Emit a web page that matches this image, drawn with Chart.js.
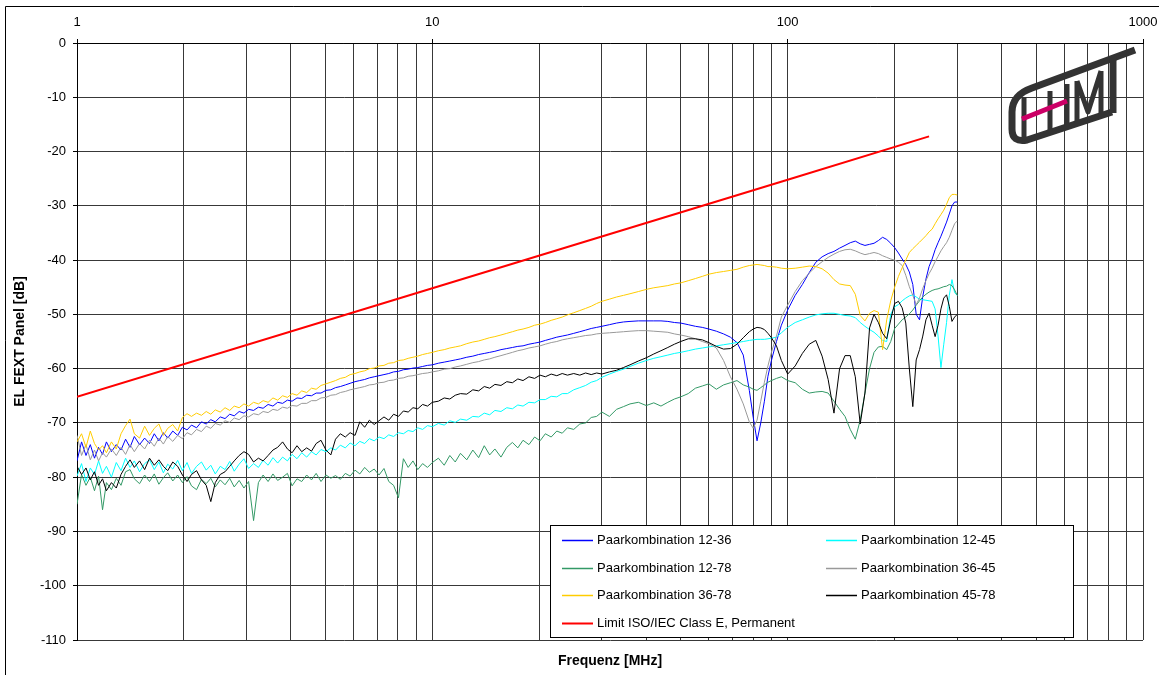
<!DOCTYPE html>
<html>
<head>
<meta charset="utf-8">
<title>EL FEXT Panel</title>
<script src="https://cdn.jsdelivr.net/npm/chart.js@4.4.1/dist/chart.umd.min.js"></script>
<style>
  html, body { margin: 0; padding: 0; background: #fff; }
  #wrap { width: 1159px; height: 675px; }
</style>
</head>
<body>
<div id="wrap"><canvas id="chart" width="1159" height="675"></canvas></div>
<script>
// Measurement frequencies in MHz (rows of 10)
const freqMHz = [
  1.00, 1.03, 1.06, 1.09, 1.12, 1.15, 1.18, 1.21, 1.25, 1.29,
  1.33, 1.37, 1.41, 1.45, 1.50, 1.55, 1.60, 1.65, 1.70, 1.75,
  1.80, 1.86, 1.92, 1.98, 2.04, 2.10, 2.17, 2.24, 2.31, 2.38,
  2.45, 2.53, 2.61, 2.69, 2.77, 2.86, 2.95, 3.04, 3.14, 3.24,
  3.34, 3.45, 3.56, 3.67, 3.79, 3.91, 4.03, 4.16, 4.29, 4.43,
  4.57, 4.71, 4.86, 5.02, 5.18, 5.34, 5.51, 5.69, 5.87, 6.06,
  6.25, 6.45, 6.65, 6.86, 7.08, 7.31, 7.54, 7.78, 8.03, 8.29,
  8.55, 8.82, 9.10, 9.39, 9.69, 10.0, 10.4, 10.8, 11.2, 11.6,
  12.0, 12.5, 13.0, 13.5, 14.0, 14.5, 15.0, 15.6, 16.2, 16.8,
  17.4, 18.0, 18.7, 19.4, 20.1, 20.8, 21.6, 22.4, 23.2, 24.0,
  25, 26, 27, 28, 29, 30, 31.5, 33, 34.5, 36,
  38, 40, 42, 44, 46, 48, 50, 52.5, 55, 57.5,
  60, 63, 66, 69, 72, 75, 78, 80, 82, 84,
  86, 88, 90, 93, 96, 100, 105, 110, 115, 120,
  125, 130, 135, 140, 145, 150, 155, 160, 165, 170,
  175, 180, 185, 190, 195, 200, 205, 210, 215, 220,
  225, 230, 235, 240, 245, 250, 255, 260, 265, 270,
  275, 280, 285, 290, 295, 300
];

// EL FEXT in dB for each pair combination, one value per frequency
const pair12_36 = [
  -77.0, -73.5, -76.0, -74.0, -76.5, -74.5, -75.8, -73.5, -75.3, -74.0,
  -75.0, -73.0, -74.5, -72.5, -74.0, -72.8, -73.8, -72.0, -73.3, -71.8,
  -72.8, -71.5, -72.3, -70.8, -71.3, -70.4, -70.9, -69.8, -70.2, -69.4,
  -69.8, -68.9, -69.2, -68.4, -68.7, -67.9, -68.2, -67.5, -67.7, -67.1,
  -67.3, -66.6, -66.9, -66.2, -66.4, -65.8, -66.0, -65.4, -65.5, -64.9,
  -65.0, -64.5, -64.5, -64.0, -63.9, -63.5, -63.3, -63.0, -62.7, -62.4,
  -62.2, -62.0, -61.7, -61.5, -61.3, -61.1, -60.9, -60.6, -60.5, -60.2,
  -60.1, -59.9, -59.8, -59.6, -59.4, -59.3, -59.0, -58.8, -58.6, -58.4,
  -58.2, -57.9, -57.7, -57.4, -57.2, -57.0, -56.8, -56.5, -56.3, -56.1,
  -55.9, -55.8, -55.5, -55.3, -55.1, -54.8, -54.5, -54.2, -54.0, -53.8,
  -53.5, -53.2, -52.9, -52.6, -52.4, -52.2, -51.9, -51.6, -51.4, -51.3,
  -51.2, -51.2, -51.2, -51.2, -51.3, -51.5, -51.6, -51.9, -52.2, -52.4,
  -52.7, -53.1, -53.6, -54.2, -55.2, -57.5, -64.0, -69.0, -73.3, -70.0,
  -66.0, -61.4, -58.5, -55.0, -52.0, -49.2, -46.5, -44.5, -42.3, -40.4,
  -39.4, -38.8, -38.4, -37.8, -37.3, -36.8, -36.5, -37.0, -37.3, -37.1,
  -36.9, -36.4, -35.8, -36.2, -36.9, -37.7, -38.7, -39.8, -40.8, -42.2,
  -44.5, -50.0, -51.0, -46.7, -43.5, -41.2, -39.8, -38.1, -36.8, -35.6,
  -34.3, -33.0, -31.5, -30.0, -29.3, -29.3
];
const pair12_45 = [
  -79.8, -77.5, -80.8, -78.3, -79.5, -77.0, -79.3, -78.0, -80.0, -77.3,
  -78.8, -76.5, -78.2, -77.0, -79.0, -77.5, -76.8, -78.6, -77.2, -79.2,
  -77.6, -78.5, -76.9, -78.8, -77.3, -79.3, -78.0, -77.2, -78.7, -77.8,
  -79.4, -78.0, -78.6, -77.1, -78.9, -77.6, -76.6, -78.4, -77.5, -78.2,
  -76.9, -77.8, -76.4, -77.4, -76.3, -77.0, -75.8, -76.6, -75.5, -76.3,
  -75.3, -75.9, -74.9, -75.3, -74.6, -75.0, -74.1, -74.6, -73.7, -74.2,
  -73.4, -73.8, -72.9, -73.3, -72.6, -72.9, -72.2, -72.5, -71.8, -72.0,
  -71.4, -71.6, -70.9, -71.2, -70.5, -70.7, -70.1, -70.4, -69.6, -69.9,
  -69.3, -69.5, -68.8, -68.9, -68.2, -68.5, -67.7, -67.9, -67.2, -67.4,
  -66.7, -66.9, -66.2, -66.3, -65.7, -65.7, -65.1, -65.2, -64.6, -64.6,
  -63.9, -63.5, -63.1, -62.5, -62.2, -61.6, -61.0, -60.5, -60.1, -59.6,
  -59.0, -58.5, -58.1, -57.8, -57.5, -57.2, -57.0, -56.7, -56.4, -56.2,
  -56.0, -55.8, -55.6, -55.4, -55.2, -55.0, -54.8, -54.7, -54.6, -54.6,
  -54.6, -54.5, -54.4, -54.2, -53.4, -52.4, -51.5, -51.0, -50.5, -50.1,
  -49.9, -49.8, -49.8, -50.0, -50.2, -50.3, -50.6, -51.5, -52.2, -52.8,
  -53.3, -54.0, -54.8, -55.0, -50.0, -48.6, -48.2, -47.5, -47.0, -46.6,
  -46.4, -46.8, -47.2, -47.3, -47.4, -47.5, -47.6, -49.0, -54.0, -59.8,
  -55.5, -51.5, -46.5, -43.6, -46.0, -46.5
];
const pair12_78 = [
  -85.0, -79.5, -81.5, -80.0, -82.5, -79.8, -86.0, -81.0, -82.3, -80.2,
  -81.5, -79.0, -78.6, -80.3, -81.2, -79.6, -80.8, -79.4, -81.3, -80.1,
  -79.2, -80.7, -79.6, -81.0, -79.9, -81.6, -82.3, -80.4, -81.2, -80.2,
  -81.8, -80.5, -81.4, -80.2, -81.8, -80.6, -82.0, -80.8, -88.0, -81.0,
  -79.6, -80.8, -79.4, -80.6, -80.0, -79.3, -81.6, -80.3, -80.8, -79.6,
  -80.5, -79.3, -80.8, -79.6, -80.2, -79.7, -80.4, -79.3, -79.8, -78.7,
  -79.4, -78.2, -79.1, -78.5, -79.6, -78.4, -80.8, -81.5, -83.8, -76.6,
  -78.2, -77.0, -78.6, -77.5, -78.2, -77.3, -76.5, -77.8, -76.0, -77.2,
  -75.6, -76.8, -75.0, -76.4, -74.2, -75.9, -74.8, -76.3, -74.5, -73.6,
  -74.6, -73.2, -74.0, -72.6, -73.3, -72.0, -72.6, -71.5, -71.9, -70.9,
  -71.2, -70.2, -70.0, -69.0, -68.8, -68.0, -68.8, -67.5, -67.0, -66.5,
  -66.2, -66.8, -66.3, -66.9, -66.2, -65.6, -65.2, -64.6, -63.6, -63.2,
  -62.8, -63.8, -63.0, -62.6, -62.2, -63.0, -63.4, -63.8, -64.0, -63.5,
  -63.0, -62.5, -62.2, -61.8, -61.5, -62.2, -62.6, -63.8, -64.5, -64.3,
  -64.2, -64.5, -66.0, -67.5, -68.8, -71.2, -73.0, -69.5, -64.5, -60.0,
  -57.0, -56.0, -55.9, -56.5, -55.0, -52.6, -51.8, -51.0, -50.5, -49.9,
  -49.2, -48.3, -47.5, -46.8, -46.3, -45.9, -45.6, -45.4, -45.3, -45.1,
  -44.9, -44.8, -44.5, -44.7, -45.5, -46.5
];
const pair36_45 = [
  -72.3, -76.0, -74.0, -76.8, -75.0, -77.0, -75.5, -76.3, -74.8, -76.0,
  -74.5, -75.8, -74.0, -75.3, -73.8, -74.8, -73.2, -74.3, -72.8, -73.9,
  -72.5, -73.4, -72.3, -72.9, -71.8, -72.2, -71.2, -71.6, -70.6, -71.0,
  -70.1, -70.4, -69.6, -69.9, -69.1, -69.4, -68.7, -68.9, -68.3, -68.5,
  -67.9, -68.1, -67.5, -67.7, -67.1, -67.3, -66.8, -66.9, -66.4, -66.4,
  -65.9, -65.9, -65.4, -65.3, -64.9, -64.8, -64.4, -64.2, -63.9, -63.7,
  -63.5, -63.3, -63.0, -62.9, -62.6, -62.5, -62.2, -62.1, -61.8, -61.7,
  -61.4, -61.3, -61.1, -60.9, -60.8, -60.6, -60.4, -60.1, -60.0, -59.7,
  -59.5, -59.2, -58.9, -58.7, -58.4, -58.2, -57.9, -57.6, -57.3, -57.0,
  -56.7, -56.5, -56.2, -56.0, -55.8, -55.5, -55.2, -55.0, -54.7, -54.5,
  -54.3, -54.1, -53.9, -53.8, -53.6, -53.5, -53.4, -53.3, -53.2, -53.1,
  -53.0, -53.0, -53.1, -53.2, -53.3, -53.6, -53.8, -54.1, -54.5, -55.0,
  -55.4, -56.2, -58.5, -61.5, -63.8, -66.5, -69.8, -71.0, -69.5, -66.0,
  -62.5, -59.5, -57.0, -54.0, -50.5, -48.3, -45.8, -43.8, -42.4, -41.2,
  -40.3, -39.5, -38.9, -38.4, -38.1, -38.0, -38.3, -38.7, -39.0, -38.8,
  -38.6, -38.8, -39.2, -39.5, -39.8, -40.0, -40.4, -41.0, -42.8, -44.9,
  -46.5, -48.2, -47.0, -45.2, -43.8, -42.5, -41.5, -40.3, -39.3, -38.3,
  -37.5, -36.8, -35.8, -34.5, -33.3, -32.8
];
const pair36_78 = [
  -73.5, -72.0, -74.5, -71.5, -73.8, -75.0, -74.2, -75.5, -73.5, -74.8,
  -72.0, -70.5, -69.3, -72.0, -72.8, -70.6, -72.3, -71.0, -70.2, -72.3,
  -71.0, -70.3, -71.5, -69.0, -68.3, -68.8, -68.2, -68.6, -67.9, -68.4,
  -67.6, -68.0, -67.2, -67.7, -66.9, -67.2, -66.5, -66.9, -66.2, -66.5,
  -65.9, -66.2, -65.4, -65.8, -65.0, -65.3, -64.6, -64.9, -64.1, -64.4,
  -63.6, -63.8, -63.1, -62.8, -62.5, -62.2, -61.8, -61.6, -61.1, -60.9,
  -60.6, -60.4, -60.0, -59.9, -59.5, -59.4, -59.0, -58.9, -58.5, -58.4,
  -58.1, -57.9, -57.7, -57.4, -57.2, -57.0, -56.7, -56.5, -56.2, -56.0,
  -55.8, -55.4, -55.1, -54.9, -54.6, -54.3, -54.1, -53.8, -53.5, -53.2,
  -52.9, -52.7, -52.4, -52.0, -51.8, -51.5, -51.1, -50.8, -50.5, -50.1,
  -49.7, -49.3, -48.9, -48.5, -48.0, -47.6, -47.2, -46.8, -46.5, -46.2,
  -45.8, -45.4, -45.1, -44.9, -44.7, -44.4, -44.2, -43.8, -43.4, -43.0,
  -42.6, -42.3, -42.1, -41.9, -41.7, -41.3, -41.0, -40.9, -40.8, -40.9,
  -41.0, -41.2, -41.2, -41.3, -41.5, -41.6, -41.5, -41.3, -41.1, -41.2,
  -41.6, -42.4, -43.6, -44.4, -44.6, -44.7, -46.3, -50.2, -51.2, -49.8,
  -49.3, -49.6, -56.5, -51.0, -47.5, -45.0, -43.0, -41.4, -40.0, -38.6,
  -37.9, -37.3, -36.7, -36.1, -35.5, -34.8, -34.3, -33.3, -32.4, -31.6,
  -30.8, -29.7, -28.5, -27.9, -27.9, -28.0
];
const pair45_78 = [
  -78.0, -79.5, -78.3, -80.5, -79.0, -81.5, -80.3, -82.5, -81.0, -82.0,
  -79.5, -78.0, -76.8, -78.2, -77.0, -78.6, -76.5, -77.8, -76.8, -78.0,
  -78.8, -77.2, -78.0, -79.6, -80.8, -79.5, -78.8, -80.5, -81.5, -84.5,
  -81.0, -79.5, -79.0, -78.0, -77.0, -76.0, -75.3, -75.8, -77.2, -76.5,
  -77.0, -76.0, -75.0, -74.5, -73.5, -74.8, -75.5, -74.2, -75.3, -74.6,
  -75.2, -73.8, -73.2, -75.0, -75.9, -73.0, -72.0, -72.6, -71.8, -72.3,
  -69.8, -70.8, -69.5, -70.3, -69.6, -68.9, -69.5, -68.4, -68.8, -67.8,
  -68.0, -67.2, -67.4, -66.6, -66.9, -66.2, -66.0, -65.4, -65.6, -64.9,
  -64.6, -64.7, -63.9, -64.1, -63.3, -63.6, -62.9, -63.1, -62.4, -62.6,
  -61.9, -62.2, -61.5, -61.8, -61.2, -61.5, -61.0, -61.3, -60.9, -61.2,
  -60.9, -61.2, -60.8, -61.1, -60.8, -61.0, -60.6, -60.3, -59.8, -59.3,
  -58.6, -58.0, -57.3, -56.7, -56.1, -55.5, -55.0, -54.5, -54.5, -54.7,
  -55.2, -55.9, -56.4, -56.3, -55.5, -54.3, -53.2, -52.7, -52.4, -52.5,
  -52.8, -53.5, -54.3, -55.8, -58.5, -61.0, -59.5, -57.2, -55.5, -54.8,
  -57.7, -62.0, -68.2, -60.0, -57.6, -57.6, -61.5, -70.2, -64.5, -52.5,
  -50.0, -51.5, -53.5, -54.5, -51.0, -48.0, -47.6, -48.8, -51.6, -60.0,
  -67.0, -58.4, -56.5, -54.0, -51.0, -49.8, -52.0, -54.1, -52.0, -49.0,
  -47.0, -46.4, -48.5, -51.3, -50.5, -50.0
];

// Class E permanent link limit
const limitFreq = [1, 10, 100, 250];
const limitValues = [-65.2, -45.2, -25.2, -17.2];

// Axis ticks
const xGridValues = [1, 2, 3, 4, 5, 6, 7, 8, 9, 10, 20, 30, 40, 50, 60, 70, 80, 90,
  100, 200, 300, 400, 500, 600, 700, 800, 900, 1000];
const xLabelValues = [1, 10, 100, 1000];
const yTickValues = [0, -10, -20, -30, -40, -50, -60, -70, -80, -90, -100, -110];

const seriesLabels = [
  'Paarkombination 12-36', 'Paarkombination 12-45', 'Paarkombination 12-78',
  'Paarkombination 36-45', 'Paarkombination 36-78', 'Paarkombination 45-78'
];
const seriesValues = [pair12_36, pair12_45, pair12_78, pair36_45, pair36_78, pair45_78];
const seriesColors = ['#0000FF', '#00FFFF', '#339966', '#999999', '#FFCC00', '#000000'];
const limitLabel = 'Limit ISO/IEC Class E, Permanent';

const FONT = '"Liberation Sans", Arial, Helvetica, sans-serif';
Chart.defaults.font.family = FONT;
Chart.defaults.font.size = 13;
Chart.defaults.color = '#000';

const datasets = seriesValues.map((vals, i) => ({
  label: seriesLabels[i],
  data: freqMHz.map((f, k) => ({ x: f, y: vals[k] })),
  borderColor: seriesColors[i],
  backgroundColor: seriesColors[i],
  borderWidth: 1,
  pointRadius: 0,
  tension: 0,
  fill: false,
  xAxisID: 'x',
  yAxisID: 'y',
  order: seriesValues.length - i + 1
}));
datasets.push({
  label: limitLabel,
  data: limitFreq.map((f, k) => ({ x: f, y: limitValues[k] })),
  borderColor: '#FF0000',
  backgroundColor: '#FF0000',
  borderWidth: 2,
  pointRadius: 0,
  tension: 0,
  fill: false,
  xAxisID: 'x',
  yAxisID: 'y',
  order: 0
});

// Legend box in two columns inside the plot area
const pairLegend = {
  id: 'pairLegend',
  afterDraw(chart) {
    const ctx = chart.ctx;
    ctx.save();
    ctx.fillStyle = '#fff';
    ctx.fillRect(550.5, 525.5, 523, 112);
    ctx.strokeStyle = '#000';
    ctx.lineWidth = 1;
    ctx.strokeRect(550.5, 525.5, 523, 112);
    ctx.font = '13px ' + FONT;
    ctx.textBaseline = 'middle';
    ctx.textAlign = 'left';
    chart.data.datasets.forEach((ds, i) => {
      const col = i % 2, row = Math.floor(i / 2);
      const x = 562 + col * 264;
      const y = Math.round(540 + row * 27.5) + 0.5;
      ctx.strokeStyle = ds.borderColor;
      ctx.lineWidth = ds.borderWidth + (ds.borderWidth === 1 ? 0.5 : 0);
      ctx.beginPath();
      ctx.moveTo(x, y);
      ctx.lineTo(x + 31, y);
      ctx.stroke();
      ctx.fillStyle = '#000';
      ctx.fillText(ds.label, x + 35, y);
    });
    ctx.restore();
  }
};

// Outer frame and company logo
const decor = {
  id: 'decor',
  afterDraw(chart) {
    const ctx = chart.ctx;
    ctx.save();
    ctx.strokeStyle = '#000';
    ctx.lineWidth = 1;
    ctx.beginPath();
    ctx.moveTo(5.5, 675);
    ctx.lineTo(5.5, 6.5);
    ctx.lineTo(1159, 6.5);
    ctx.stroke();

    ctx.lineJoin = 'round';
    ctx.lineCap = 'butt';
    ctx.strokeStyle = '#333333';
    ctx.lineWidth = 7;
    ctx.beginPath();
    ctx.moveTo(1135, 50);
    ctx.lineTo(1032, 88);
    ctx.quadraticCurveTo(1012, 95, 1012, 112);
    ctx.lineTo(1012, 129);
    ctx.quadraticCurveTo(1012, 143, 1027, 140);
    ctx.lineTo(1112, 112);
    ctx.stroke();

    ctx.lineWidth = 5;
    ctx.beginPath();
    ctx.moveTo(1024, 97); ctx.lineTo(1024, 137);
    ctx.moveTo(1050, 91); ctx.lineTo(1050, 131);
    ctx.moveTo(1067, 84); ctx.lineTo(1067, 126);
    ctx.moveTo(1077, 81); ctx.lineTo(1077, 123);
    ctx.moveTo(1077, 81); ctx.lineTo(1088, 112); ctx.lineTo(1101, 71);
    ctx.moveTo(1101, 71); ctx.lineTo(1101, 117);
    ctx.stroke();
    ctx.lineWidth = 7;
    ctx.beginPath();
    ctx.moveTo(1113, 57); ctx.lineTo(1113, 113);
    ctx.stroke();

    ctx.strokeStyle = '#CC0066';
    ctx.lineWidth = 5;
    ctx.beginPath();
    ctx.moveTo(1022, 119); ctx.lineTo(1067, 101);
    ctx.stroke();
    ctx.restore();
  }
};

new Chart(document.getElementById('chart'), {
  type: 'line',
  data: { datasets },
  plugins: [pairLegend, decor],
  options: {
    responsive: false,
    animation: false,
    devicePixelRatio: 1,
    layout: { padding: { left: 0, top: 0, right: 16, bottom: 0 } },
    plugins: {
      legend: { display: false },
      tooltip: { enabled: false },
      title: { display: false }
    },
    scales: {
      x: {
        type: 'logarithmic',
        position: 'top',
        min: 1,
        max: 1000,
        afterBuildTicks: s => { s.ticks = xGridValues.map(v => ({ value: v })); },
        afterFit: s => { s.height = 43; s.paddingLeft = 0; s.paddingRight = 0; },
        ticks: {
          autoSkip: false,
          maxRotation: 0,
          padding: 9,
          color: '#000',
          font: { size: 13 },
          callback: v => (xLabelValues.includes(v) ? String(v) : '')
        },
        grid: {
          color: '#383838',
          lineWidth: 1,
          tickLength: 4,
          tickColor: c => (c.tick && xLabelValues.includes(c.tick.value) ? '#000' : 'rgba(0,0,0,0)')
        },
        border: { color: '#000' }
      },
      xTitle: {
        type: 'linear',
        position: 'bottom',
        min: 0,
        max: 1,
        afterFit: s => { s.height = 35; s.paddingLeft = 0; s.paddingRight = 0; },
        ticks: { display: false },
        grid: { display: false, drawTicks: false },
        border: { display: false },
        title: {
          display: true,
          text: 'Frequenz [MHz]',
          color: '#000',
          font: { size: 14, weight: 'bold' },
          padding: { top: 0, bottom: 5 }
        }
      },
      y: {
        type: 'linear',
        min: -110,
        max: 0,
        afterBuildTicks: s => { s.ticks = yTickValues.map(v => ({ value: v })); },
        afterFit: s => { s.width = 77; s.paddingTop = 0; s.paddingBottom = 0; },
        ticks: { padding: 7, color: '#000', font: { size: 13 } },
        grid: { color: '#383838', lineWidth: 1, tickLength: 4, tickColor: '#000' },
        border: { color: '#000' },
        title: {
          display: true,
          text: 'EL FEXT Panel [dB]',
          color: '#000',
          font: { size: 14, weight: 'bold' },
          padding: { top: 12, bottom: 0 }
        }
      }
    }
  }
});
</script>
</body>
</html>
